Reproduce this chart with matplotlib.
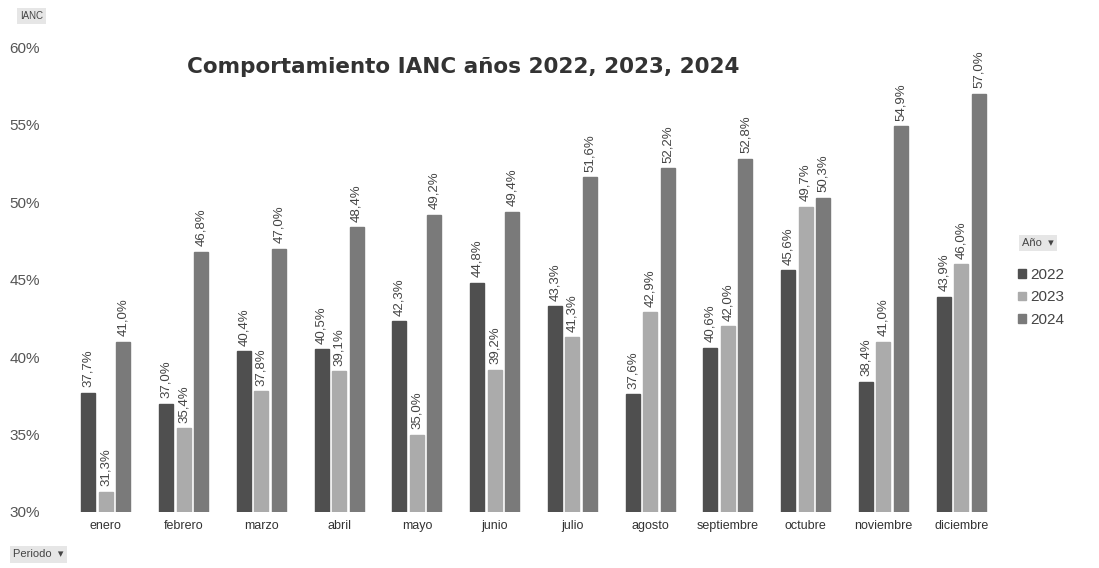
import matplotlib
matplotlib.use("Agg")
import matplotlib.pyplot as plt
import numpy as np

plt.rcParams["font.family"] = ["Liberation Sans", "DejaVu Sans"]

months = ["enero", "febrero", "marzo", "abril", "mayo", "junio", "julio",
          "agosto", "septiembre", "octubre", "noviembre", "diciembre"]
years = ["2022", "2023", "2024"]
v2022 = [37.7, 37.0, 40.4, 40.5, 42.3, 44.8, 43.3, 37.6, 40.6, 45.6, 38.4, 43.9]
v2023 = [31.3, 35.4, 37.8, 39.1, 35.0, 39.2, 41.3, 42.9, 42.0, 49.7, 41.0, 46.0]
v2024 = [41.0, 46.8, 47.0, 48.4, 49.2, 49.4, 51.6, 52.2, 52.8, 50.3, 54.9, 57.0]
colors = ["#4f4f4f", "#ababab", "#7a7a7a"]

fig = plt.figure(figsize=(10.99, 5.68), dpi=100)
ax = fig.add_axes([0.068, 0.0986, 0.842, 0.818])

x = np.arange(len(months))
w = 0.18
off = 0.225
for i, (vals, c, lab) in enumerate(zip([v2022, v2023, v2024], colors, years)):
    pos = x + (i - 1) * off
    ax.bar(pos, np.array(vals) - 30, w, bottom=30, color=c, label=lab, edgecolor=c)
    for p, v in zip(pos, vals):
        ax.text(p, v + 0.35, f"{v:.1f}%".replace(".", ","), rotation=90,
                ha="center", va="bottom", fontsize=9.5, color="#444444")

ax.set_ylim(30, 60)
ax.set_xlim(-0.4, 11.5)
ax.set_yticks(range(30, 61, 5))
ax.set_yticklabels([f"{t}%" for t in range(30, 61, 5)])
ax.set_xticks(x)
ax.set_xticklabels(months)
ax.tick_params(axis="y", length=0, labelsize=11, labelcolor="#555555", pad=25)
ax.tick_params(axis="x", length=0, labelsize=9, labelcolor="#333333", pad=6)
for s in ax.spines.values():
    s.set_visible(False)

ax.text(0.42, 0.957, "Comportamiento IANC años 2022, 2023, 2024", transform=ax.transAxes,
        ha="center", va="center", fontsize=15.5, fontweight="bold", color="#333333",
        family="DejaVu Sans")

fig.text(0.018, 0.972, "IANC", fontsize=7, color="#444444", va="center",
         bbox=dict(boxstyle="square,pad=0.3", fc="#e6e6e6", ec="none"))
fig.text(0.012, 0.024, "Periodo  ▾", fontsize=8, color="#444444", va="center",
         bbox=dict(boxstyle="square,pad=0.3", fc="#e6e6e6", ec="none"))
fig.text(0.93, 0.572, "Año  ▾", fontsize=8, color="#444444", va="center",
         bbox=dict(boxstyle="square,pad=0.3", fc="#e6e6e6", ec="none"))

leg = ax.legend(loc="upper left", bbox_to_anchor=(1.005, 0.555), frameon=False,
                fontsize=11, handlelength=0.5, handleheight=0.5, handletextpad=0.3,
                labelspacing=0.55, labelcolor="#444444")

fig.savefig("out.png", dpi=100)
